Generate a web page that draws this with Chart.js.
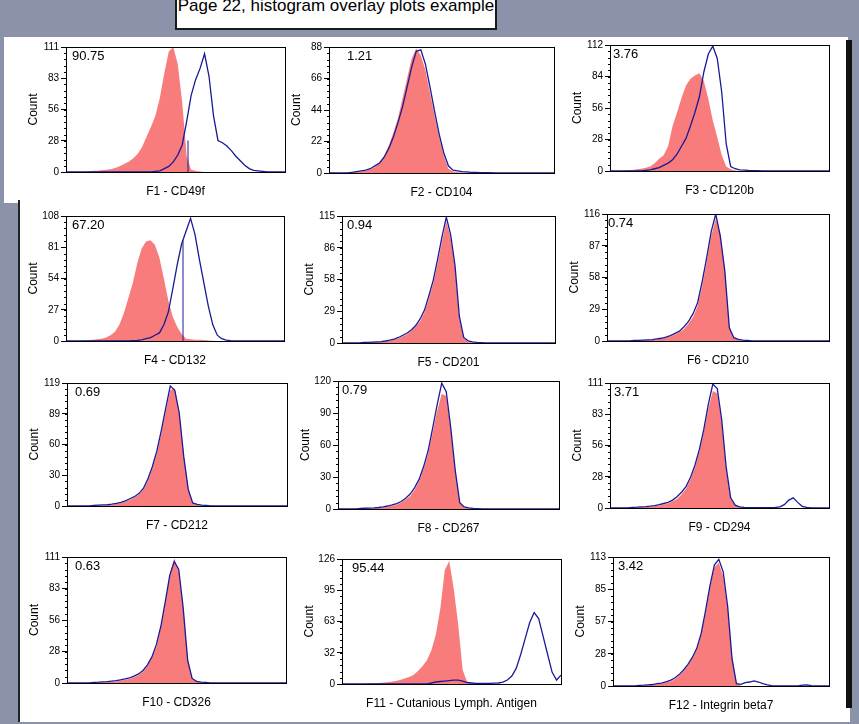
<!DOCTYPE html>
<html>
<head>
<meta charset="utf-8">
<script src="https://cdn.jsdelivr.net/npm/chart.js@4.4.1/dist/chart.umd.min.js"></script>
<style>
  html, body { margin: 0; padding: 0; }
  body { width: 859px; height: 724px; background: #8b93ab; position: relative; overflow: hidden;
         font-family: "Liberation Sans", Arial, sans-serif; }
  .panel { position: absolute; background: #fff; }
  canvas { position: absolute; }
  #titlebox { position: absolute; left: 175px; top: -12px; width: 322px; height: 42px; background: #fff;
              border: 2px solid #1a1a1a; box-sizing: border-box; }
  #title { position: absolute; left: 175px; width: 322px; top: -3px; font-size: 17px; line-height: 17px;
           text-align: center; color: #000; }
</style>
</head>
<body>
<div class="panel" style="left:4px;top:37px;width:844px;height:166px"></div>
<div class="panel" style="left:18px;top:200px;width:830px;height:522px;border-left:2px solid #222"></div>
<div style="position:absolute;left:846px;top:40px;width:6px;height:668px;background:#111"></div>
<div id="titlebox"></div>
<div id="title">Page 22, histogram overlay plots example</div>

<script>
// histogram channels (50 bins across the hidden x axis)
const bins = Array.from({length: 50}, (_, i) => i);

const names = ['F1 - CD49f', 'F2 - CD104', 'F3 - CD120b', 'F4 - CD132', 'F5 - CD201', 'F6 - CD210',
  'F7 - CD212', 'F8 - CD267', 'F9 - CD294', 'F10 - CD326', 'F11 - Cutanious Lymph. Antigen', 'F12 - Integrin beta7'];
const stats = ['90.75', '1.21', '3.76', '67.20', '0.94', '0.74', '0.69', '0.79', '3.71', '0.63', '95.44', '3.42'];
const yMax = [111, 88, 112, 108, 115, 116, 119, 120, 111, 111, 126, 113];
const yTickLabels = [
  ['0', '28', '56', '83', '111'], ['0', '22', '44', '66', '88'], ['0', '28', '56', '84', '112'],
  ['0', '27', '54', '81', '108'], ['0', '29', '58', '86', '115'], ['0', '29', '58', '87', '116'],
  ['0', '30', '60', '89', '119'], ['0', '30', '60', '90', '120'], ['0', '28', '56', '83', '111'],
  ['0', '28', '56', '83', '111'], ['0', '32', '63', '95', '126'], ['0', '28', '57', '85', '113']
];

// isotype control (red fill) and stained sample (blue line)
const redF1  = [0,0,0,0,0, 0.5,1,1,1.5,2, 2.5,3.5,5,7,9, 12,16,22,31,40, 50,66,88,107,111, 96,62,14,2,1, 0.5,0,0,0,0, 0,0,0,0,0, 0,0,0,0,0, 0,0,0,0,0];
const blueF1 = [0,0,0,0,0, 0,0,0,0,0, 0,0,0,0,0, 0,0,0,0,0, 0.5,1,3,5,9, 15,24,45,68,82, 92,105,85,50,28, 26,23,19,14,10, 6,3,1.5,1,0.5, 0,0,0,0,0];
const redF2  = [0,0,0,0,0, 0.5,0.8,1,1.5,2.5, 4,7,12,19,28, 38,52,66,80,87, 82,72,56,40,25, 12,3,1,0.5,0.3, 0.3,0,0,0,0, 0,0,0,0,0, 0,0,0,0,0, 0,0,0,0,0];
const blueF2 = [0,0,0,0,0, 0.5,1,1.5,2,3, 5,7,11,17,25, 35,46,60,74,85, 86,76,60,43,27, 14,5,2,1.5,1, 0.8,0.5,0.5,0.3,0.3, 0.2,0,0,0,0, 0,0,0,0,0, 0,0,0,0,0];
const redF3  = [0,0,0,0,0.5, 1,1.5,2,3,4, 7,11,14,22,40, 52,65,76,82,85, 87,80,64,45,30, 14,4,1.5,0.5,0, 0,0,0,0,0, 0,0,0,0,0, 0,0,0,0,0, 0,0,0,0,0];
const blueF3 = [0,0,0,0,0, 0,0,0,0.5,1, 2,3,5,7,10, 15,22,29,40,52, 66,88,104,111,100, 70,24,4,2,1, 0.8,0.5,0.4,0.3,0, 0,0,0,0,0, 0,0,0,0,0, 0,0,0,0,0];
const redF4  = [0,0,0,0,0.3, 0.6,1,1.5,2,3, 5,8,14,24,37, 50,67,80,86,87, 83,72,54,35,21, 12,6,2,1.5,1, 1,0.8,0.5,0.3,0, 0,0,0,0,0, 0,0,0,0,0, 0,0,0,0,0];
const blueF4 = [0,0,0,0,0, 0,0,0,0,0, 0,0,0,0,0, 0.3,0.5,1,2,3, 5,7,14,25,45, 66,84,95,106,92, 70,50,30,14,5, 2,0.8,0.3,0,0, 0,0,0,0,0, 0,0,0,0,0];
const redF5  = [0,0,0,0,0, 0.3,0.5,0.6,0.8,1, 1.5,2,3,4,6, 8,11,15,20,28, 40,54,72,92,110, 95,68,22,4,1, 0.5,0.3,0,0,0, 0,0,0,0,0, 0,0,0,0,0, 0,0,0,0,0];
const blueF5 = [0,0,0,0,0, 0.5,0.6,0.8,1,1.2, 1.8,2.5,3.5,5,7, 9,12,16,22,30, 43,57,76,96,114, 98,70,24,5,2, 1,0.6,0.4,0,0, 0,0,0,0,0, 0,0,0,0,0, 0,0,0,0,0];
const redF6  = [0,0,0,0,0, 0,0.3,0.5,0.6,0.8, 1,1.5,2,3,4, 6,8,11,16,22, 32,50,72,96,112, 98,66,12,3,1, 0.5,0.3,0,0,0, 0,0,0,0,0, 0,0,0,0,0, 0,0,0,0,0];
const blueF6 = [0,0,0,0,0, 0,0.5,0.6,0.8,1, 1.2,2,2.5,3.5,5, 7,9,13,18,25, 35,54,76,100,116, 96,64,12,3,1.5, 0.8,0.5,0,0,0, 0,0,0,0,0, 0,0,0,0,0, 0,0,0,0,0];
const redF7  = [0,0,0,0,0, 0,0.3,0.5,0.6,0.8, 1.2,2,3,4,6, 8,11,16,24,36, 50,70,92,112,114, 92,50,18,3,1, 0.5,0.3,0,0,0, 0,0,0,0,0, 0,0,0,0,0, 0,0,0,0,0];
const blueF7 = [0,0,0,0,0, 0,0.5,0.8,1,1.2, 1.8,2.5,3.5,5,7, 9,12,17,26,38, 53,73,95,116,112, 90,48,16,3,1.5, 0.8,0.5,0,0,0, 0,0,0,0,0, 0,0,0,0,0, 0,0,0,0,0];
const redF8  = [0,0,0,0,0, 0.3,0.5,0.6,0.8,1, 1.5,2,3,4,6, 9,12,18,26,38, 52,72,92,108,106, 74,34,6,1.5,0.8, 0.5,0.3,0,0,0, 0,0,0,0,0, 0,0,0,0,0, 0,0,0,0,0];
const blueF8 = [0,0,0,0,0, 0.5,0.7,0.9,1.1,1.4, 2,2.8,3.8,5,7, 10,14,20,28,40, 55,76,98,118,110, 76,36,6,2,1, 0.6,0.4,0,0,0, 0,0,0,0,0, 0,0,0,0,0, 0,0,0,0,0];
const redF9  = [0,0,0,0,0, 0.3,0.5,0.7,0.9,1.2, 1.6,2.2,3,4,6, 8,12,17,25,36, 50,68,88,104,102, 76,34,8,2,0.8, 0.4,0,0,0,0, 0,0,0,0,0, 0,0,0,0,0, 0,0,0,0,0];
const blueF9 = [0,0,0,0,0, 0.5,0.7,1,1.2,1.6, 2.2,3,4,5,7, 10,14,19,27,38, 52,70,92,110,106, 78,36,9,2.5,1, 0.6,0.4,0.3,0.3,0.2, 0.2,0.3,0.5,1,3, 7,9,5,1.5,0.5, 0,0,0,0,0];
const redF10 = [0,0,0,0,0, 0,0.3,0.5,0.6,0.8, 1,1.4,2,2.8,3.6, 5,7,10,15,22, 32,48,70,96,110, 98,66,22,4,1, 0.5,0.3,0,0,0, 0,0,0,0,0, 0,0,0,0,0, 0,0,0,0,0];
const blueF10 = [0,0,0,0,0, 0,0.5,0.7,1,1.2, 1.6,2,2.8,3.6,4.5, 6,8,11,16,23, 34,50,72,95,107, 100,66,20,4,1.5, 0.8,0.5,0,0,0, 0,0,0,0,0, 0,0,0,0,0, 0,0,0,0,0];
const redF11 = [0,0,0,0,0, 0.3,0.5,0.7,1,1.3, 1.7,2.2,3,4,5.5, 7,9,13,18,24, 34,50,76,115,124, 96,60,14,2,0.5, 0,0,0,0,0, 0,0,0,0,0, 0,0,0,0,0, 0,0,0,0,0];
const blueF11 = [0,0,0,0,0, 0,0,0,0,0, 0,0,0,0,0, 0,0,0,0,0, 1,2,2.5,3,3.5, 4,4,3,1.5,1, 0.6,0.5,0.5,0.6,0.8, 1,2,4,8,16, 30,46,62,72,66, 48,30,12,4,9];
const redF12 = [0,0,0,0,0, 0,0.3,0.5,0.7,1, 1.5,2,3,4,6, 9,13,18,24,32, 44,64,86,104,108, 96,68,26,3,0, 0,0,0,0,0, 0,0,0,0,0, 0,0,0,0,0, 0,0,0,0,0];
const blueF12 = [0,0,0,0,0, 0,0.5,0.7,1,1.3, 2,2.6,3.6,5,7, 10,14,19,25,33, 46,66,88,106,111, 100,70,24,2,1.5, 3,3.5,4.5,3.5,2, 1,0.3,0,0,0, 0,0,0,0.8,1, 0.3,0,0,0,0];

// gate markers: [bin, height]
const markerF1 = [27.3, 28];
const markerF4 = [26.3, 87];

const reds  = [redF1, redF2, redF3, redF4, redF5, redF6, redF7, redF8, redF9, redF10, redF11, redF12];
const blues = [blueF1, blueF2, blueF3, blueF4, blueF5, blueF6, blueF7, blueF8, blueF9, blueF10, blueF11, blueF12];
const markers = [markerF1, null, null, markerF4, null, null, null, null, null, null, null, null];

// plot boxes on the page: left, top, right, bottom
const boxes = [
  [66, 47, 285, 172], [329, 47, 554, 173], [610, 45, 829, 171],
  [66, 216, 284, 341], [342, 216, 555, 343], [607, 214, 829, 341],
  [67, 383, 287, 506], [338, 381, 559, 509], [610, 383, 829, 508],
  [67, 557, 286, 683], [342, 559, 561, 684], [613, 557, 829, 686]
];
const statDx = [6, 18, 3, 6, 5, 1, 8, 4, 4, 8, 10, 5];

const FONT = "'Liberation Sans', Arial, sans-serif";
const RED = 'rgb(248,124,124)';
const BLUE = 'rgb(26,26,150)';
Chart.defaults.font.family = FONT;
Chart.defaults.color = '#000';

const boxPlugin = {
  id: 'box',
  afterDraw(chart, args, opts) {
    const {ctx, chartArea: a} = chart;
    const y = chart.scales.y;
    ctx.save();
    ctx.strokeStyle = '#000';
    ctx.lineWidth = 1;
    const l = Math.round(a.left) + 0.5, t = Math.round(a.top) + 0.5;
    ctx.strokeRect(l, t, Math.round(a.right - a.left), Math.round(a.bottom - a.top));
    // minor ticks on the count axis
    ctx.beginPath();
    for (let k = 0; k <= 20; k++) {
      const py = Math.round(y.getPixelForValue(y.max * k / 20)) + 0.5;
      ctx.moveTo(l - 2.5, py);
      ctx.lineTo(l, py);
    }
    ctx.stroke();
    ctx.fillStyle = '#000';
    ctx.font = '13px ' + FONT;
    ctx.textBaseline = 'top';
    ctx.fillText(opts.text, a.left + opts.dx, a.top + 3);
    ctx.restore();
  }
};

function makeHist(i) {
  const [L, T, R, B] = boxes[i];
  const cv = document.createElement('canvas');
  cv.width = R - L + 44 + 8;
  cv.height = B - T + 8 + 31;
  cv.style.left = (L - 44) + 'px';
  cv.style.top = (T - 8) + 'px';
  document.body.appendChild(cv);

  const datasets = [
    { data: bins.map((x, k) => ({x: x, y: blues[i][k]})), borderColor: BLUE, borderWidth: 1.3,
      pointRadius: 0, fill: false, order: 0 },
    { data: bins.map((x, k) => ({x: x, y: reds[i][k]})), borderColor: RED, borderWidth: 0,
      backgroundColor: RED, pointRadius: 0, fill: 'origin', order: 1 }
  ];
  const m = markers[i];
  if (m) {
    datasets.push({ data: [{x: m[0], y: 0}, {x: m[0], y: m[1]}], borderColor: BLUE, borderWidth: 1,
      pointRadius: 0, fill: false, order: 0 });
  }

  new Chart(cv, {
    type: 'line',
    data: { datasets: datasets },
    options: {
      responsive: false,
      animation: false,
      devicePixelRatio: 1,
      layout: { padding: { top: 8, right: 8, left: 0, bottom: 0 } },
      plugins: {
        legend: { display: false },
        tooltip: { enabled: false },
        box: { text: stats[i], dx: statDx[i] }
      },
      scales: {
        x: {
          type: 'linear', min: 0, max: 49,
          grid: { display: false }, border: { display: false },
          ticks: { display: false },
          title: { display: true, text: names[i], color: '#000', font: { size: 12 }, padding: { top: 0, bottom: 4 } },
          afterFit: s => { s.height = 31; }
        },
        y: {
          min: 0, max: yMax[i],
          grid: { drawOnChartArea: false, drawTicks: true, tickLength: 5, color: '#000' },
          border: { display: false },
          afterBuildTicks: s => { s.ticks = yTickLabels[i].map((t, k) => ({ value: yMax[i] * k / 4 })); },
          ticks: { autoSkip: false, color: '#000', padding: 2, font: { size: 10 },
                   callback: (v, k) => yTickLabels[i][k] },
          title: { display: true, text: 'Count', color: '#000', font: { size: 12 } },
          afterFit: s => { s.width = 44; }
        }
      }
    },
    plugins: [boxPlugin]
  });
}

for (let i = 0; i < 12; i++) makeHist(i);
</script>
</body>
</html>
